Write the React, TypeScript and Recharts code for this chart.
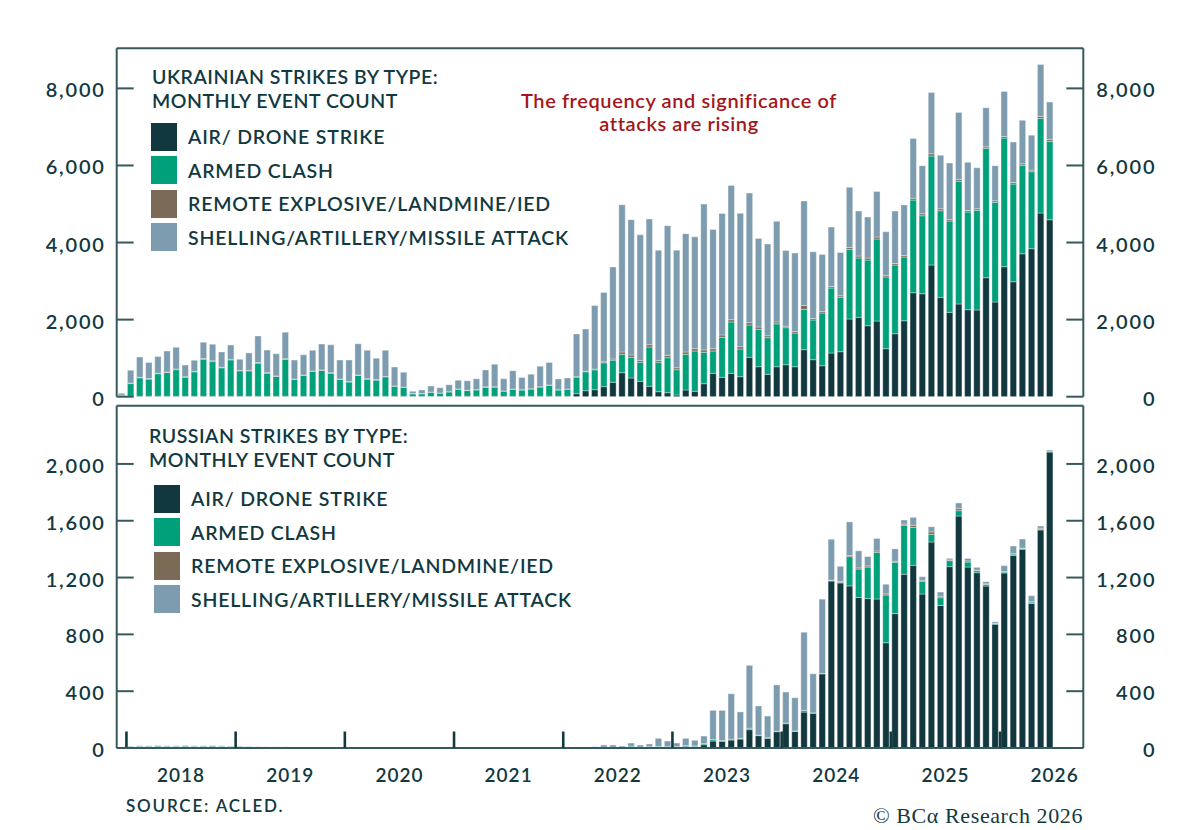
import React from 'react';
import { BarChart, Bar, XAxis, YAxis, Legend, ReferenceLine } from 'recharts';

const FONT = "Lato, 'Open Sans', sans-serif";
const INK = '#12393f';
const FRAME = '#36595d';
const RED = '#a3171c';

// first bar is June 2017, last bar December 2025
const START_YEAR = 2017;
const START_MONTH = 6;
const months: string[] = Array.from({ length: 103 }, (_, i) => {
    const m = START_MONTH - 1 + i;
    return `${START_YEAR + Math.floor(m / 12)}-${String((m % 12) + 1).padStart(2, '0')}`;
});

const yearLabels = ['2018', '2019', '2020', '2021', '2022', '2023', '2024', '2025', '2026'];
const labelTicks = yearLabels.map((_, k) => 6.5 + 12 * k); // 1 January
const markTicks = yearLabels.map((_, k) => 0.5 + 12 * k); // 1 July
const X_DOMAIN: [number, number] = [-0.57, 105.65];

// Ukrainian strikes, monthly event count
const ukrAir = [
    30, 10, 10, 10, 10, 10, 10,
    10, 10, 10, 10, 10, 10, 10, 10, 10, 10, 10, 10,
    10, 10, 10, 10, 10, 10, 10, 10, 10, 10, 10, 10,
    10, 5, 5, 5, 5, 5, 10, 10, 10, 10, 10, 10,
    10, 10, 10, 10, 10, 10, 10, 78, 156, 182, 260, 373,
    623, 485, 399, 270, 130, 104, 44, 174, 140, 337, 607, 503,
    607, 519, 1022, 778, 581, 778, 830, 778, 1219, 960, 804, 1133,
    1167, 2015, 2059, 1842, 1963, 1245, 1634, 1971, 2698, 2672, 3416, 2578,
    2189, 2405, 2257, 2249, 3087, 2456, 3372, 2983, 3709, 3839, 4765, 4591,
];
const ukrArmed = [
    15, 330, 480, 445, 585, 615, 690,
    495, 635, 960, 900, 740, 945, 660, 660, 860, 600, 515, 960,
    435, 540, 645, 670, 600, 440, 370, 540, 445, 420, 505, 260,
    235, 70, 70, 112, 88, 120, 185, 150, 165, 235, 240, 135,
    185, 165, 190, 240, 285, 165, 185, 430, 490, 515, 620, 575,
    477, 537, 493, 1019, 762, 908, 656, 926, 1045, 815, 578, 1038,
    1331, 718, 838, 970, 949, 1112, 960, 874, 1048, 1030, 1367, 1687,
    1411, 1808, 1539, 1704, 2128, 1860, 1782, 1653, 2404, 2023, 2828, 2247,
    2369, 3182, 2534, 2586, 3356, 2587, 3339, 2534, 2293, 1998, 2456, 2034,
];
const ukrRemote = [
    0, 15, 15, 15, 15, 15, 20,
    15, 15, 20, 20, 15, 15, 15, 15, 15, 15, 15, 15,
    15, 15, 15, 15, 10, 10, 15, 15, 10, 15, 10, 10,
    5, 5, 5, 5, 5, 5, 5, 5, 10, 10, 5, 5,
    5, 5, 5, 10, 10, 5, 5, 10, 15, 20, 25, 30,
    60, 60, 50, 60, 50, 60, 50, 60, 60, 60, 60, 60,
    60, 60, 60, 60, 50, 50, 40, 40, 100, 40, 40, 40,
    40, 50, 50, 50, 50, 40, 40, 40, 50, 50, 60, 50,
    40, 50, 40, 40, 40, 40, 40, 40, 40, 40, 50, 50,
];
const ukrShelling = [
    45, 330, 525, 420, 430, 545, 560,
    300, 285, 420, 430, 395, 370, 285, 450, 690, 585, 575, 690,
    490, 525, 535, 670, 725, 490, 555, 810, 740, 555, 680, 490,
    385, 60, 95, 155, 135, 180, 230, 250, 280, 440, 590, 315,
    475, 320, 380, 530, 585, 280, 285, 1110, 1095, 1650, 1800, 2390,
    3820, 3510, 3260, 3260, 2855, 3365, 3050, 3070, 2905, 3785, 3095, 3155,
    3485, 3460, 3365, 2300, 2380, 2610, 1965, 2035, 2710, 1730, 1480, 1540,
    1125, 1560, 1170, 1065, 1185, 1135, 1360, 1310, 1550, 1250, 1590, 1390,
    1465, 1740, 1250, 1065, 1015, 910, 1170, 1050, 1130, 910, 1350, 970,
];

// Russian strikes, monthly event count
const ruAir = [
    2, 2, 2, 2, 2, 2, 2,
    2, 2, 2, 2, 2, 2, 2, 2, 1, 1, 1, 1,
    1, 1, 1, 1, 1, 1, 1, 1, 1, 1, 1, 1,
    1, 1, 1, 1, 1, 1, 1, 1, 1, 1, 1, 1,
    1, 1, 1, 1, 1, 1, 1, 0, 1, 2, 3, 3,
    3, 5, 3, 4, 5, 5, 5, 12, 12, 23, 49, 47,
    56, 63, 129, 87, 68, 115, 171, 117, 253, 245, 522, 1175,
    1162, 1141, 1060, 1052, 1049, 741, 946, 1223, 1286, 1084, 1450, 1004,
    1277, 1633, 1274, 1234, 1140, 871, 1232, 1356, 1399, 1018, 1535, 2084,
];
const ruArmed = [
    3, 6, 8, 8, 10, 9, 8,
    10, 8, 9, 10, 8, 7, 6, 5, 5, 4, 4, 4,
    3, 3, 3, 3, 3, 3, 3, 3, 3, 3, 3, 3,
    2, 2, 2, 2, 2, 2, 2, 2, 2, 2, 2, 2,
    2, 2, 2, 2, 2, 2, 2, 2, 1, 2, 3, 3,
    4, 8, 4, 6, 6, 5, 5, 5, 3, 8, 10, 6,
    6, 5, 10, 3, 5, 3, 5, 3, 12, 2, 2, 5,
    3, 206, 200, 222, 328, 336, 361, 345, 267, 89, 54, 54,
    42, 38, 35, 14, 12, 7, 7, 10, 7, 10, 4, 2,
];
const ruRemote = [
    0, 0, 0, 0, 0, 0, 0,
    0, 0, 0, 0, 0, 0, 0, 0, 0, 0, 0, 0,
    0, 0, 0, 0, 0, 0, 0, 0, 0, 0, 0, 0,
    0, 0, 0, 0, 0, 0, 0, 0, 0, 0, 0, 0,
    0, 0, 0, 0, 0, 0, 0, 0, 0, 0, 0, 0,
    0, 0, 0, 0, 0, 0, 0, 0, 0, 0, 0, 0,
    0, 0, 0, 0, 0, 0, 0, 0, 0, 0, 0, 2,
    8, 8, 8, 8, 10, 8, 8, 8, 15, 8, 17, 10,
    5, 14, 8, 4, 4, 2, 3, 2, 2, 2, 8, 5,
];
const ruShelling = [
    2, 4, 5, 5, 6, 5, 5,
    6, 5, 5, 6, 5, 4, 4, 3, 3, 3, 3, 3,
    2, 2, 2, 2, 2, 2, 2, 2, 2, 2, 2, 2,
    2, 2, 2, 2, 2, 2, 2, 2, 2, 2, 2, 2,
    2, 2, 2, 2, 2, 2, 2, 1, 2, 5, 15, 15,
    7, 22, 14, 18, 57, 39, 25, 51, 39, 53, 206, 212,
    320, 186, 443, 206, 152, 326, 218, 234, 550, 276, 524, 288,
    106, 237, 120, 66, 88, 68, 87, 29, 56, 25, 37, 30,
    11, 40, 18, 20, 15, 9, 42, 54, 63, 42, 16, 7,
];

const ukrTicks = [0, 2000, 4000, 6000, 8000];
const ruTicks = [0, 400, 800, 1200, 1600, 2000];

const series = [
    { key: 'air', name: 'AIR/ DRONE STRIKE', color: '#10383e' },
    { key: 'armed', name: 'ARMED CLASH', color: '#00a07b' },
    { key: 'remote', name: 'REMOTE EXPLOSIVE/LANDMINE/IED', color: '#7a6a56' },
    { key: 'shelling', name: 'SHELLING/ARTILLERY/MISSILE ATTACK', color: '#7e9cb0' },
];

const buildRows = (air: number[], armed: number[], remote: number[], shelling: number[]) =>
    months.map((month, i) => ({ i, month, air: air[i], armed: armed[i], remote: remote[i], shelling: shelling[i] }));

const ukrRows = buildRows(ukrAir, ukrArmed, ukrRemote, ukrShelling);
const ruRows = buildRows(ruAir, ruArmed, ruRemote, ruShelling);

const tickText: React.CSSProperties = { fontFamily: FONT, fontSize: 20, letterSpacing: 1.8, fontWeight: 600 };

const LeftTick = ({ x, y, payload }: any) => (
    <g>
        <line x1={x} x2={x + 17} y1={y} y2={y} stroke={FRAME} strokeWidth={2} />
        <text x={x - 11} y={y + 1} textAnchor="end" dominantBaseline="central" fill={INK} style={tickText}>
            {payload.value.toLocaleString('en-US')}
        </text>
    </g>
);

const RightTick = ({ x, y, payload }: any) => (
    <g>
        <line x1={x - 17} x2={x} y1={y} y2={y} stroke={FRAME} strokeWidth={2} />
        <text x={x + 73} y={y + 1} textAnchor="end" dominantBaseline="central" fill={INK} style={tickText}>
            {payload.value.toLocaleString('en-US')}
        </text>
    </g>
);

const YearTick = ({ x, y, payload }: any) => {
    const k = labelTicks.indexOf(payload.value);
    if (k >= 0) {
        return (
            <text x={x} y={y + 26} textAnchor="middle" dominantBaseline="central" fill={INK}
                style={{ ...tickText, fontSize: 19, letterSpacing: 1 }}>
                {yearLabels[k]}
            </text>
        );
    }
    return <line x1={x} x2={x} y1={y} y2={y - 16.5} stroke={INK} strokeWidth={2.6} />;
};

const LegendBox = ({ payload, title, gap, indent }: any) => {
    const order = series.map((s) => s.name);
    const items = [...(payload || [])].sort((a: any, b: any) => order.indexOf(a.value) - order.indexOf(b.value));
    return (
        <div style={{ fontFamily: FONT, color: INK, fontSize: 19.5, fontWeight: 600, whiteSpace: 'nowrap' }}>
            {title.map((t: string) => (
                <div key={t} style={{ height: 24, lineHeight: '24px', paddingLeft: 1, letterSpacing: 0.5 }}>{t}</div>
            ))}
            <div style={{ marginTop: gap, letterSpacing: 0.8 }}>
                {items.map((p: any) => {
                    const s = series.find((d) => d.name === p.value);
                    return (
                        <div key={p.value} style={{ display: 'flex', alignItems: 'center', height: 33.5 }}>
                            <span style={{ width: 26, height: 28, background: s ? s.color : p.color, marginLeft: indent, marginRight: 11, flex: 'none' }} />
                            <span>{p.value}</span>
                        </div>
                    );
                })}
            </div>
        </div>
    );
};

interface PanelProps {
    rows: any[];
    yMax: number;
    yTicks: number[];
    title: string[];
    height: number;
    margin: { top: number; right: number; bottom: number; left: number };
    legendPos: { left: number; top: number };
    legendGap: number;
    legendIndent: number;
    showYears: boolean;
}

const Panel: React.FC<PanelProps> = ({ rows, yMax, yTicks, title, height, margin, legendPos, legendGap, legendIndent, showYears }) => (
    <BarChart width={1200} height={height} data={rows} margin={margin} style={{ overflow: 'visible' }}>
        <XAxis
            dataKey="i"
            type="number"
            domain={X_DOMAIN}
            allowDataOverflow
            ticks={showYears ? [...markTicks, ...labelTicks].sort((a, b) => a - b) : []}
            interval={0}
            tick={showYears ? <YearTick /> : false}
            tickLine={false}
            tickSize={0}
            tickMargin={0}
            height={showYears ? 40 : 0}
            axisLine={{ stroke: FRAME, strokeWidth: 2 }}
        />
        <YAxis
            yAxisId="left"
            orientation="left"
            type="number"
            domain={[0, yMax]}
            allowDataOverflow
            ticks={yTicks}
            interval={0}
            width={116.7}
            tick={<LeftTick />}
            tickLine={false}
            tickSize={0}
            tickMargin={0}
            axisLine={{ stroke: FRAME, strokeWidth: 2 }}
        />
        <YAxis
            yAxisId="right"
            orientation="right"
            type="number"
            domain={[0, yMax]}
            allowDataOverflow
            ticks={yTicks}
            interval={0}
            width={116.7}
            tick={<RightTick />}
            tickLine={false}
            tickSize={0}
            tickMargin={0}
            axisLine={{ stroke: FRAME, strokeWidth: 2 }}
        />
        <ReferenceLine yAxisId="left" y={yMax} stroke={FRAME} strokeWidth={2} ifOverflow="visible" />
        <Legend
            layout="horizontal"
            align="center"
            verticalAlign="middle"
            width={560}
            wrapperStyle={{ left: legendPos.left, top: legendPos.top, width: 560 }}
            content={(props: any) => <LegendBox {...props} title={title} gap={legendGap} indent={legendIndent} />}
        />
        {series.map((s) => (
            <Bar
                key={s.key}
                yAxisId="left"
                dataKey={s.key}
                name={s.name}
                stackId="events"
                fill={s.color}
                stroke="#ffffff"
                strokeWidth={0.5}
                strokeOpacity={0.7}
                barSize={6.4}
                isAnimationActive={false}
            />
        ))}
    </BarChart>
);

export default function App() {
    return (
        <div style={{ position: 'absolute', left: 0, top: 0, width: 1200, height: 830, background: '#ffffff', overflow: 'hidden' }}>
            <div style={{ position: 'absolute', left: 0, top: 0 }}>
                <Panel
                    rows={ukrRows}
                    yMax={9040}
                    yTicks={ukrTicks}
                    title={['UKRAINIAN STRIKES BY TYPE:', 'MONTHLY EVENT COUNT']}
                    height={420}
                    margin={{ top: 48.3, right: 0, bottom: 23.3, left: 0 }}
                    legendPos={{ left: 151, top: 65 }}
                    legendGap={7}
                    legendIndent={0}
                    showYears={false}
                />
            </div>
            <div style={{ position: 'absolute', left: 0, top: 400 }}>
                <Panel
                    rows={ruRows}
                    yMax={2410}
                    yTicks={ruTicks}
                    title={['RUSSIAN STRIKES BY TYPE:', 'MONTHLY EVENT COUNT']}
                    height={430}
                    margin={{ top: 5.7, right: 0, bottom: 42, left: 0 }}
                    legendPos={{ left: 148, top: 24 }}
                    legendGap={10}
                    legendIndent={6}
                    showYears
                />
            </div>
            <div
                style={{
                    position: 'absolute', left: 429, top: 89, width: 500, textAlign: 'center',
                    fontFamily: FONT, fontSize: 20, letterSpacing: 0.6, lineHeight: '23px', color: RED, fontWeight: 600,
                }}
            >
                The frequency and significance of
                <br />
                attacks are rising
            </div>
            <div style={{ position: 'absolute', left: 126, top: 795, fontFamily: FONT, fontSize: 17, letterSpacing: 1.8, color: INK, fontWeight: 600 }}>
                SOURCE: ACLED.
            </div>
            <div
                style={{
                    position: 'absolute', right: 117, top: 803, fontFamily: "'Liberation Serif', 'DejaVu Serif', serif",
                    fontSize: 22, letterSpacing: 0.6, color: INK, whiteSpace: 'nowrap',
                }}
            >
                © BCα Research 2026
            </div>
        </div>
    );
}
